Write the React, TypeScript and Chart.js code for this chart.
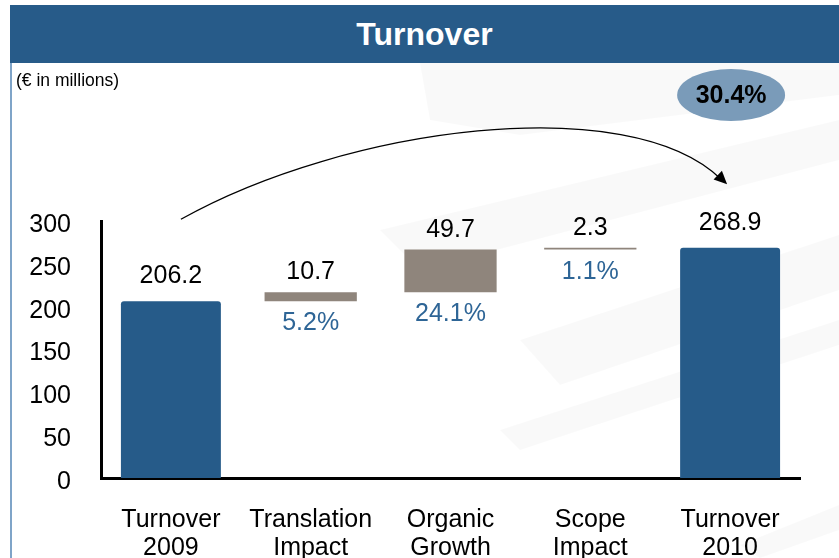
import React, { useEffect, useRef } from 'react';
import { Chart, registerables } from 'chart.js';

Chart.register(...registerables);

const categories = [
  ['Turnover', '2009'],
  ['Translation', 'Impact'],
  ['Organic', 'Growth'],
  ['Scope', 'Impact'],
  ['Turnover', '2010'],
];
const totalValues = [206.2, null, null, null, 268.9];
const deltaBase = [null, 206.2, 216.9, 266.6, null];
const deltaValues = [null, 10.7, 49.7, 2.3, null];
const valueLabels = ['206.2', '10.7', '49.7', '2.3', '268.9'];
const pctLabels = ['', '5.2%', '24.1%', '1.1%', ''];
const growthLabel = '30.4%';
const yMin = 0;
const yMax = 300;
const yStep = 50;
// arrow anchors (category index, value)
const arrowFrom = { index: 0, value: 302 };
const arrowTo = { index: 4, value: 343 };

const FONT = "'Liberation Sans', Arial, Helvetica, sans-serif";

const overlayPlugin = {
  id: 'overlay',
  beforeDraw(chart: any) {
    const ctx = chart.ctx;
    ctx.save();
    ctx.fillStyle = 'rgba(0,0,0,0.025)';
    const bands = [
      [[420, 63], [520, 63], [839, 63], [839, 95], [520, 135], [430, 120]],
      [[380, 230], [839, 120], [839, 160], [420, 270]],
      [[520, 340], [839, 235], [839, 290], [560, 385]],
      [[500, 430], [839, 320], [839, 345], [520, 450]],
      [[740, 545], [839, 505], [839, 530], [760, 558]],
    ];
    bands.forEach((b) => {
      ctx.beginPath();
      b.forEach((p, i) => (i ? ctx.lineTo(p[0], p[1]) : ctx.moveTo(p[0], p[1])));
      ctx.closePath();
      ctx.fill();
    });
    ctx.restore();
  },
  afterDatasetsDraw(chart: any) {
    const ctx = chart.ctx;
    const xs = chart.scales.x;
    const ys = chart.scales.y;
    ctx.save();
    ctx.textAlign = 'center';
    ctx.textBaseline = 'middle';
    ctx.font = `25px ${FONT}`;
    const m0 = chart.getDatasetMeta(0);
    const m1 = chart.getDatasetMeta(1);
    for (let i = 0; i < categories.length; i++) {
      if (totalValues[i] != null) {
        const el = m0.data[i];
        const top = Math.min(el.y, el.base);
        ctx.fillStyle = '#000';
        ctx.fillText(valueLabels[i], el.x, top - 25);
      } else if (deltaValues[i] != null) {
        const el = m1.data[i];
        const top = Math.min(el.y, el.base);
        const bot = Math.max(el.y, el.base);
        ctx.fillStyle = '#000';
        ctx.fillText(valueLabels[i], el.x, top - 20);
        ctx.fillStyle = '#2E6596';
        ctx.fillText(pctLabels[i], el.x, bot + 22);
      }
    }
    // arrow
    const sx = xs.getPixelForValue(arrowFrom.index) + 10;
    const sy = ys.getPixelForValue(arrowFrom.value);
    const ex = xs.getPixelForValue(arrowTo.index) - 3;
    const ey = ys.getPixelForValue(arrowTo.value);
    const c1x = sx + (ex - sx) * 0.3, c1y = sy - 92;
    const c2x = sx + (ex - sx) * 0.82, c2y = ey - 95;
    ctx.strokeStyle = '#000';
    ctx.lineWidth = 1.3;
    ctx.beginPath();
    ctx.moveTo(sx, sy);
    ctx.bezierCurveTo(c1x, c1y, c2x, c2y, ex - 6, ey - 5);
    ctx.stroke();
    const ang = Math.atan2(ey - c2y, ex - c2x);
    const L = 13, W = 6;
    ctx.fillStyle = '#000';
    ctx.beginPath();
    ctx.moveTo(ex, ey);
    ctx.lineTo(ex - L * Math.cos(ang) + W * Math.sin(ang), ey - L * Math.sin(ang) - W * Math.cos(ang));
    ctx.lineTo(ex - L * Math.cos(ang) - W * Math.sin(ang), ey - L * Math.sin(ang) + W * Math.cos(ang));
    ctx.closePath();
    ctx.fill();
    // growth ellipse
    const cx = xs.getPixelForValue(arrowTo.index) + 1;
    const cy = 95;
    ctx.fillStyle = '#7A9BB9';
    ctx.beginPath();
    ctx.ellipse(cx, cy, 54, 26, 0, 0, Math.PI * 2);
    ctx.fill();
    ctx.fillStyle = '#000';
    ctx.font = `bold 25px ${FONT}`;
    ctx.fillText(growthLabel, cx, cy + 1);
    ctx.restore();
  },
};

export default function App() {
  const ref = useRef<HTMLCanvasElement>(null);
  useEffect(() => {
    document.body.style.margin = '0';
    const chart = new Chart(ref.current as HTMLCanvasElement, {
      type: 'bar',
      data: {
        labels: categories as any,
        datasets: [
          {
            data: totalValues as any,
            backgroundColor: '#265B89',
            borderRadius: 3,
            borderSkipped: 'bottom',
            categoryPercentage: 1,
            barPercentage: 0.715,
            grouped: false,
          } as any,
          {
            data: deltaBase.map((b, i) => (b == null ? null : [b, b + (deltaValues[i] as number)])) as any,
            backgroundColor: '#8F857C',
            categoryPercentage: 1,
            barPercentage: 0.66,
            grouped: false,
          } as any,
        ],
      },
      options: {
        animation: false,
        responsive: false,
        events: [],
        layout: { padding: { top: 221, right: 39, left: 0, bottom: 0 } },
        plugins: { legend: { display: false }, tooltip: { enabled: false }, title: { display: false } },
        scales: {
          x: {
            grid: { display: false },
            border: { display: true, color: '#000', width: 3 },
            ticks: {
              color: '#000',
              font: { family: FONT, size: 25, lineHeight: 1.12 },
              padding: 20,
              maxRotation: 0,
              autoSkip: false,
            },
            afterFit: (s: any) => {
              s.height = 80;
            },
          },
          y: {
            min: yMin,
            max: yMax,
            grid: { display: false, drawTicks: false },
            border: { display: true, color: '#000', width: 3 },
            ticks: {
              stepSize: yStep,
              color: '#000',
              font: { family: FONT, size: 25 },
              padding: 30,
              labelOffset: 4,
            },
            afterFit: (s: any) => {
              s.width = 101;
            },
          },
        },
      },
      plugins: [overlayPlugin],
    });
    return () => chart.destroy();
  }, []);

  return (
    <div style={{ position: 'relative', width: 839, height: 558, overflow: 'hidden', background: '#fff' }}>
      <canvas ref={ref} width={839} height={558} style={{ position: 'absolute', left: 0, top: 0 }} />
      <div
        style={{
          position: 'absolute',
          left: 10,
          top: 5,
          width: 829,
          height: 58,
          background: '#275B89',
          color: '#fff',
          fontFamily: FONT,
          fontWeight: 'bold',
          fontSize: 32,
          lineHeight: '58px',
          textAlign: 'center',
        }}
      >
        Turnover
      </div>
      <div style={{ position: 'absolute', left: 10, top: 63, width: 2, height: 495, background: '#7FA4C8' }} />
      <div
        style={{
          position: 'absolute',
          left: 16,
          top: 70,
          fontFamily: FONT,
          fontSize: 17.5,
          color: '#000',
          whiteSpace: 'nowrap',
        }}
      >
        (€ in millions)
      </div>
    </div>
  );
}
